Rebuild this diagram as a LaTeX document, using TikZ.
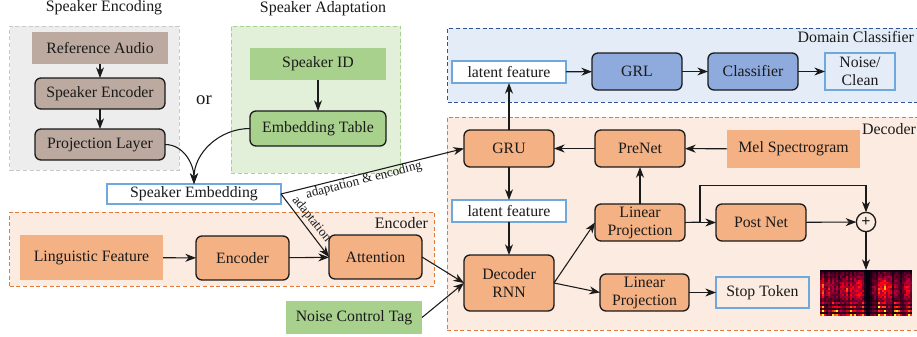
\documentclass[tikz,border=0pt]{standalone}
\usepackage{fontspec}
\setmainfont{Liberation Serif}
\usetikzlibrary{arrows.meta,calc}
\definecolor{grayBg}{HTML}{EDEDED}
\definecolor{grayLn}{HTML}{C9C9C9}
\definecolor{taupe}{HTML}{BCAAA0}
\definecolor{greenBg}{HTML}{E2EFD9}
\definecolor{greenLn}{HTML}{A9D18E}
\definecolor{greenFl}{HTML}{A9D18E}
\definecolor{orangeBg}{HTML}{FCEBE1}
\definecolor{orangeLn}{HTML}{E07B39}
\definecolor{orangeFl}{HTML}{F4B183}
\definecolor{blueBg}{HTML}{E4EDF7}
\definecolor{blueLn}{HTML}{2F5597}
\definecolor{blueFl}{HTML}{8FAADC}
\definecolor{outl}{HTML}{6FA8DC}
\definecolor{ink}{HTML}{1A1A1A}
\tikzset{
  every node/.style={inner sep=0pt,outer sep=0pt,align=center,text=ink,font=\fontsize{11.85}{13.5}\selectfont},
  region/.style={draw=#1,densely dashed,line width=0.7pt},
  flatbox/.style={fill=#1},
  roundbox/.style={fill=#1,draw=ink,line width=1pt,rounded corners=4.5pt},
  outbox/.style={fill=#1,draw=outl,line width=1.1pt},
  title/.style={font=\fontsize{11.95}{14}\selectfont},
  edgelabel/.style={font=\fontsize{9.8}{11}\selectfont},
  conn/.style={draw=ink,line width=0.8pt,-{Stealth[length=8pt,width=6pt,inset=2.5pt]}},
  plainline/.style={draw=ink,line width=0.8pt},
}
\newcommand{\bx}[7]{%
  \pgfmathsetmacro{\cxx}{(#3+#5)/2}\pgfmathsetmacro{\cyy}{(#4+#6)/2}%
  \pgfmathsetmacro{\www}{(#5-#3)*0.75}\pgfmathsetmacro{\hhh}{(#6-#4)*0.75}%
  \node[#2,minimum width=\www pt,minimum height=\hhh pt] (#1) at (\cxx,\cyy) {#7};}
\begin{document}
\begin{tikzpicture}[x=0.75pt,y=-0.75pt]
\clip (0,0) rectangle (917,336);
\fill[white] (0,0) rectangle (917,336);
% regions
\bx{rgEnc}{region=grayLn,fill=grayBg}{9.5}{26}{179}{170}{}
\bx{rgAda}{region=greenLn,fill=greenBg}{231}{26}{400.5}{173}{}
\bx{rgEncoder}{region=orangeLn,fill=orangeBg}{9.5}{212}{434}{286}{}
\bx{rgDom}{region=blueLn,fill=blueBg}{447.5}{28}{930}{102}{}
\bx{rgDec}{region=orangeLn,fill=orangeBg}{447}{117}{930}{330}{}
% titles
\node[title] (tEnc) at (104,7.5) {Speaker Encoding};
\node[title] (tAda) at (323,8.5) {Speaker Adaptation};
\node[font=\fontsize{14}{16}\selectfont] (orw) at (204,100) {or};
\node[title,anchor=east] (tEncoder) at (428,223) {Encoder};
\node[title,anchor=east] (tDom) at (914,37) {Domain Classifier};
\node[title,anchor=east] (tDec) at (916,129) {Decoder};
% left column
\bx{ref}{flatbox=taupe}{32}{32}{168}{64}{Reference Audio}
\bx{spkenc}{roundbox=taupe}{35}{78}{165}{109}{Speaker Encoder}
\bx{proj}{roundbox=taupe}{35}{129}{165}{160}{Projection Layer}
\bx{spkid}{flatbox=greenFl}{250}{48}{386}{80}{Speaker ID}
\bx{table}{roundbox=greenFl}{250}{111}{386}{146}{Embedding Table}
\bx{emb}{outbox=white}{107}{184}{281}{204}{Speaker Embedding}
\bx{ling}{flatbox=orangeFl}{20}{235}{163}{280}{Linguistic Feature}
\bx{encd}{roundbox=orangeFl}{196}{236}{289}{280}{Encoder}
\bx{att}{roundbox=orangeFl}{329}{235}{422}{279}{Attention}
\bx{noise}{flatbox=greenFl}{286}{301}{422}{334}{Noise Control Tag}
% domain classifier
\bx{lat1}{outbox=white}{452}{61}{566}{83}{latent feature}
\bx{grl}{roundbox=blueFl}{592}{53}{682}{90}{GRL}
\bx{cls}{roundbox=blueFl}{708}{53}{798}{90}{Classifier}
\bx{nc}{outbox=blueBg}{825}{53}{895}{90}{Noise/\\Clean}
% decoder
\bx{gru}{roundbox=orangeFl}{464}{130}{554}{167}{GRU}
\bx{pre}{roundbox=orangeFl}{595}{130}{685}{167}{PreNet}
\bx{mel}{flatbox=orangeFl}{727}{130}{860}{168}{Mel Spectrogram}
\bx{lat2}{outbox=white}{452}{200}{566}{222}{latent feature}
\bx{lp1}{roundbox=orangeFl}{595}{204}{685}{241}{Linear\\Projection}
\bx{post}{roundbox=orangeFl}{716}{204}{806}{241}{Post Net}
\bx{rnn}{roundbox=orangeFl}{464}{255}{554}{311}{Decoder\\RNN}
\bx{lp2}{roundbox=orangeFl}{600}{274}{689}{311}{Linear\\Projection}
\bx{stop}{outbox=orangeBg}{716}{277}{809}{308}{Stop Token}
\node[circle,draw=ink,line width=1pt,fill=orangeBg,minimum size=14.5pt,font=\bfseries\fontsize{12}{12}\selectfont] (sum) at (866,222) {+};
% spectrogram
\bx{spec}{fill=black}{820}{270}{912}{315}{}
\pgfmathsetseed{7}
\foreach \ix in {0,...,45}{
  \pgfmathsetmacro{\colv}{0.5+0.5*abs(sin(\ix*53+\ix*\ix*3))}
  \pgfmathsetmacro{\gapv}{(\ix>=23 && \ix<=24) ? 0.06 : ((\ix==22||\ix==25) ? 0.25 : ((\ix==14||\ix==36||\ix==40||\ix==28||\ix==2) ? 0.4 : 1))}
  \pgfmathsetmacro{\clus}{(cos(\ix*47)>-0.1) ? 1 : 0.25}
  \foreach \iy in {0,...,22}{
    \pgfmathsetmacro{\hump}{exp(-((\iy-9)*(\iy-9))/34)}
    \pgfmathsetmacro{\band}{(\iy>=16) ? (0.5+0.5*cos(\iy*180))*\clus*(0.3+(\iy-16)*0.08) : 0}
    \pgfmathsetmacro{\top}{(\iy<1) ? 0.25 : 1}
    \pgfmathsetmacro{\vv}{min(1,\top*\colv*\gapv*(0.1+0.42*\hump*(0.65+0.35*cos(\ix*23))+\band*1.0)*(0.6+0.8*rnd))}
    \pgfmathsetmacro{\rr}{min(1,2.6*\vv)}
    \pgfmathsetmacro{\gg}{max(0,min(1,2.6*\vv-1.1))}
    \pgfmathsetmacro{\bb}{(\vv<0.3)*(0.06+0.6*\vv)+(\vv>=0.3)*0.08}
    \definecolor{speccell}{rgb}{\rr,\gg,\bb}
    \fill[speccell] (820+\ix*2,270+\iy*2) rectangle ++(2.05,2.05);
  }
}
% connectors
\draw[conn] (ref) -- (spkenc);
\draw[conn] (spkenc) -- (proj);
\draw[conn] (spkid) -- (table);
\draw[conn] (proj.east) to[out=0,in=90] (emb.north);
\draw[conn] (table.west) to[out=180,in=90] (emb.north);
\draw[conn] (ling) -- (encd);
\draw[conn] (encd) -- (att);
\draw[conn] (emb.east) -- (gru.west);
\draw[conn] (emb.east) -- (att.west);
\draw[conn] (att.east) -- (rnn.west);
\draw[conn] (noise.east) -- (rnn.west);
\draw[conn] (gru) -- (lat1);
\draw[conn] (lat1) -- (grl);
\draw[conn] (grl) -- (cls);
\draw[conn] (cls) -- (nc);
\draw[conn] (mel) -- (pre);
\draw[conn] (pre) -- (gru);
\draw[conn] (gru) -- (lat2);
\draw[conn] (lat2) -- (rnn);
\draw[conn] (lp1) -- (pre);
\draw[conn] (rnn.east) -- (lp1.west);
\draw[conn] (rnn.east) -- (lp2.west);
\draw[conn] (lp2) -- (stop);
\draw[conn] (lp1) -- (post);
\draw[conn] (post) -- (sum);
\coordinate (bypassA) at (700,222);
\coordinate (bypassB) at (700,185.5);
\coordinate (bypassC) at (866,185.5);
\draw[plainline] (lp1.east) -- (bypassA);
\draw[conn] (bypassA) -- (bypassB) -- (bypassC) -- (sum);
\draw[conn] (sum) -- (spec);
% edge labels
\node[edgelabel,rotate=14.5] (lblA) at (364,180.5) {adaptation \& encoding};
\node[edgelabel,rotate=-51] (lblB) at (311.5,219.5) {adaptation};
\end{tikzpicture}
\end{document}
